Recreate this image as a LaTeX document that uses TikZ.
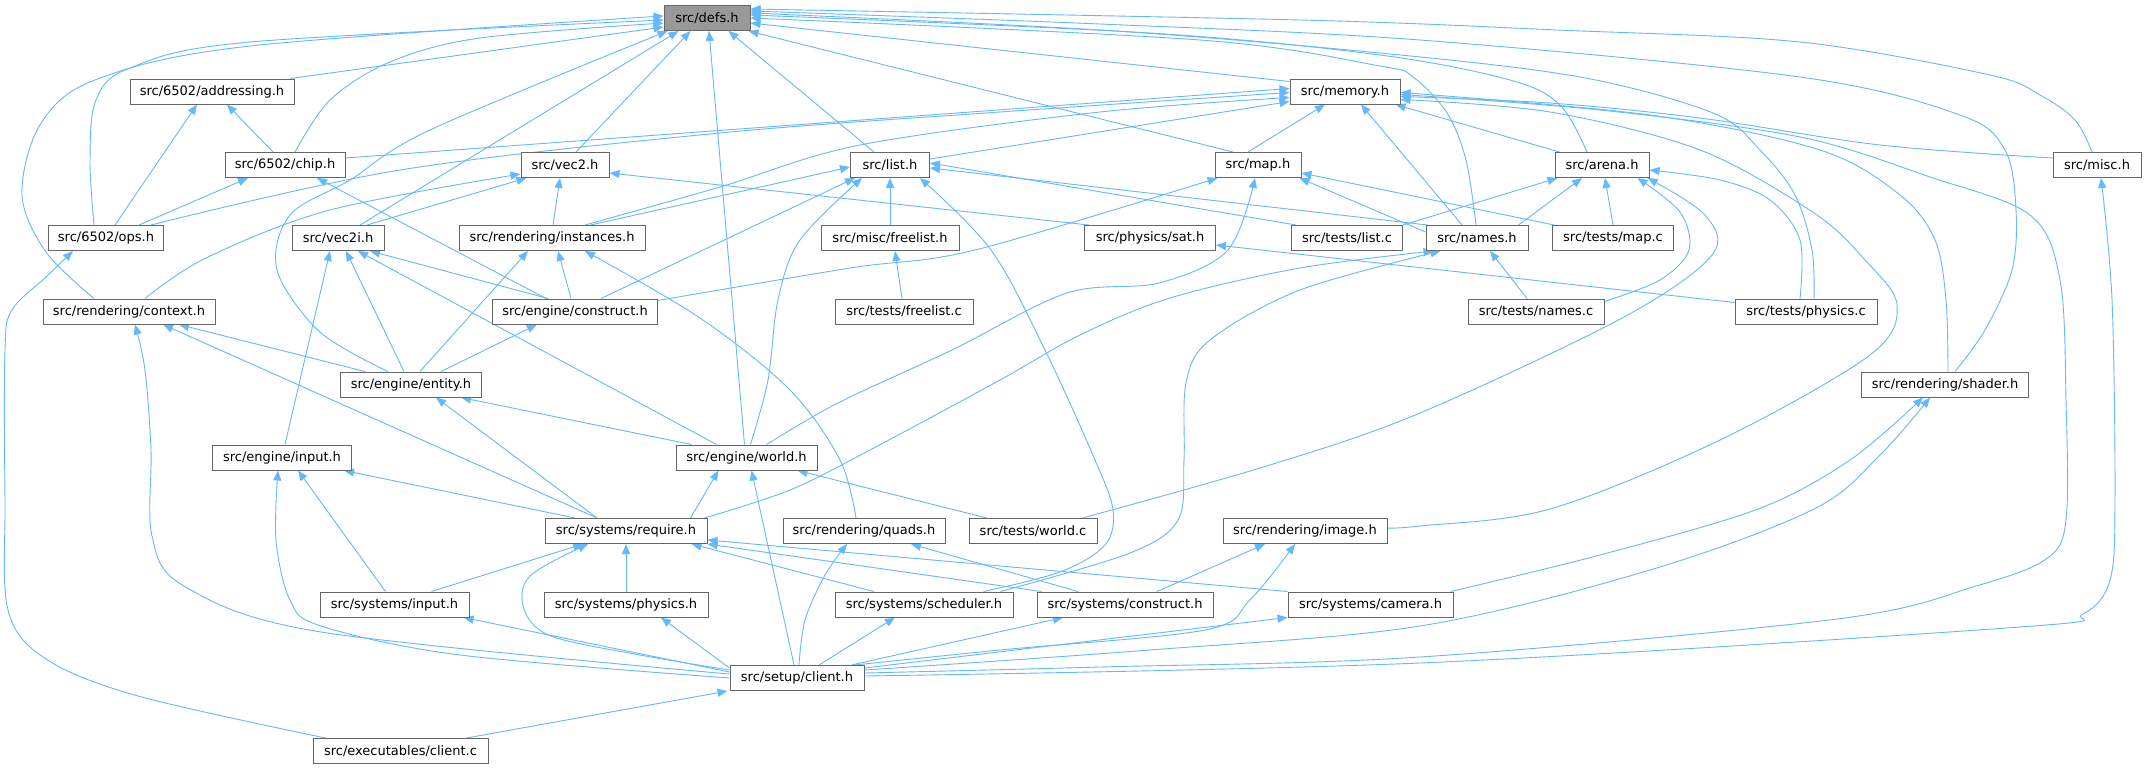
\documentclass[tikz,border=0pt]{standalone}
\usepackage{fontspec}
\setmainfont{DejaVu Sans}
\usetikzlibrary{arrows.meta,calc}
\definecolor{edgec}{HTML}{63B8FF}
\definecolor{bord}{HTML}{666666}
\definecolor{deffill}{HTML}{999999}
\pgfdeclarelayer{bg}
\pgfsetlayers{bg,main}
\tikzset{
 box/.style={draw=bord, line width=1pt, fill=white, minimum height=25pt, inner sep=0pt, text=black, font=\fontsize{13}{15}\selectfont},
 edge/.style={draw=edgec, line width=0.9pt, -{Triangle[length=10pt,width=8pt]}},
 sm/.style={smooth, tension=0.55}
}
\begin{document}
\begin{tikzpicture}[x=1pt,y=-1pt]
\useasboundingbox (0,0) rectangle (2147,769);
% nodes
\node[box, fill=deffill, minimum width=86pt] (defs) at (707,18) {src/defs.h};
\node[box, minimum width=164pt] (addressing) at (212,91.5) {src/6502/addressing.h};
\node[box, minimum width=110pt] (memory) at (1345,91.5) {src/memory.h};
\node[box, minimum width=120pt] (chip) at (285,165) {src/6502/chip.h};
\node[box, minimum width=88pt] (vec2) at (565,165) {src/vec2.h};
\node[box, minimum width=79pt] (list) at (890,165) {src/list.h};
\node[box, minimum width=86pt] (map) at (1258,165) {src/map.h};
\node[box, minimum width=94pt] (arena) at (1602,165) {src/arena.h};
\node[box, minimum width=88pt] (misc) at (2097,165) {src/misc.h};
\node[box, minimum width=115pt] (ops) at (106,238) {src/6502/ops.h};
\node[box, minimum width=92pt] (vec2i) at (338,238) {src/vec2i.h};
\node[box, minimum width=186pt] (instances) at (552,238) {src/rendering/instances.h};
\node[box, minimum width=138pt] (freelist) at (890,238) {src/misc/freelist.h};
\node[box, minimum width=131pt] (sat) at (1150,238) {src/physics/sat.h};
\node[box, minimum width=111pt] (testlist) at (1347,238) {src/tests/list.c};
\node[box, minimum width=102pt] (names) at (1477,238) {src/names.h};
\node[box, minimum width=121pt] (testmap) at (1613,238) {src/tests/map.c};
\node[box, minimum width=172pt] (context) at (129,311.5) {src/rendering/context.h};
\node[box, minimum width=165pt] (construct) at (575,311.5) {src/engine/construct.h};
\node[box, minimum width=138pt] (freelistc) at (904,311.5) {src/tests/freelist.c};
\node[box, minimum width=136pt] (testnames) at (1536,311.5) {src/tests/names.c};
\node[box, minimum width=142pt] (testphysics) at (1806,311.5) {src/tests/physics.c};
\node[box, minimum width=141pt] (entity) at (411,384.5) {src/engine/entity.h};
\node[box, minimum width=167pt] (shader) at (1945,384.5) {src/rendering/shader.h};
\node[box, minimum width=139pt] (einput) at (282,457.5) {src/engine/input.h};
\node[box, minimum width=141pt] (world) at (746.5,457.5) {src/engine/world.h};
\node[box, minimum width=162pt] (require) at (626,531) {src/systems/require.h};
\node[box, minimum width=162pt] (quads) at (864,531) {src/rendering/quads.h};
\node[box, minimum width=128pt] (testworld) at (1033,531) {src/tests/world.c};
\node[box, minimum width=164pt] (image) at (1305,531) {src/rendering/image.h};
\node[box, minimum width=149pt] (sinput) at (394.5,604.5) {src/systems/input.h};
\node[box, minimum width=164pt] (sphysics) at (626,604.5) {src/systems/physics.h};
\node[box, minimum width=178pt] (scheduler) at (924,604.5) {src/systems/scheduler.h};
\node[box, minimum width=176pt] (sconstruct) at (1125,604.5) {src/systems/construct.h};
\node[box, minimum width=165pt] (camera) at (1370.5,604.5) {src/systems/camera.h};
\node[box, minimum width=134pt] (client) at (797,678) {src/setup/client.h};
\node[box, minimum width=175pt] (clientc) at (400.5,751) {src/executables/client.c};

\begin{pgfonlayer}{bg}
\fill[white] (0,0) rectangle (2147,769);
% ---- into defs
\draw[edge] ([xshift=-4pt]addressing.north east) -- ([yshift=-9pt]defs.west);
\draw[edge] plot[sm] coordinates {([xshift=10pt]chip.north) (330,100) (390,62) (480,38) ([yshift=-5pt]defs.west)};
\draw[edge] plot[sm] coordinates {([xshift=-12pt]ops.north) (90,160) (96,100) (130,68) (250,42) ([yshift=-2pt]defs.west)};
\draw[edge] plot[sm] coordinates {([xshift=-35pt]context.north) (46,252) (22,195) (40,125) (95,80) (250,46) ([yshift=2pt]defs.west)};
\draw[edge] ([xshift=11pt]vec2.north) -- ([xshift=27pt]defs.south west);
\draw[edge] ([xshift=22pt]vec2i.north) -- ([xshift=15pt]defs.south west);
\draw[edge] plot[sm] coordinates {([xshift=-23pt]entity.north) (320,332) (277,270) (290,215) (350,180) (430,130) ([xshift=4pt]defs.south west)};
\draw[edge] ([xshift=-2pt]world.north) -- ([xshift=2pt]defs.south);
\draw[edge] ([xshift=-16pt]list.north) -- ([xshift=-22pt]defs.south east);
\draw[edge] ([xshift=-25pt]map.north) -- ([xshift=-2pt]defs.south east);
\draw[edge] ([yshift=-3pt]memory.north west) -- ([yshift=-5pt]defs.east);
\draw[edge] plot[sm] coordinates {([xshift=-1pt]names.north) (1466,160) (1447,113) (1413,77) (1380,66) (1200,40) (defs.east)};
\draw[edge] plot[sm] coordinates {([xshift=-15pt]arena.north) (1560,105) (1510,80) (1380,55) (1150,33) ([yshift=3pt]defs.east)};
\draw[edge] plot[sm] coordinates {([xshift=8pt]testphysics.north) (1812,250) (1795,195) (1760,150) (1713,113) (1580,77) (1380,53) (1100,30) ([yshift=5pt]defs.east)};
\draw[edge] plot[sm] coordinates {([xshift=10pt]shader.north) (1985,330) (2012,270) (2016,210) (2005,150) (1960,115) (1800,77) (1420,40) (1100,24) ([yshift=7pt]defs.east)};
\draw[edge] plot[sm] coordinates {([xshift=-5pt]misc.north) (2075,120) (2040,95) (1990,75) (1800,42) (1557,30) (1300,20) ([yshift=9pt]defs.east)};
% ---- into memory
\draw[edge] ([yshift=7pt]chip.east) -- ([yshift=3pt]memory.west);
\draw[edge] plot[sm] coordinates {([xshift=-13pt]ops.north east) (400,170) (720,133) (1000,112) ([yshift=-1pt]memory.west)};
\draw[edge] plot[sm] coordinates {([xshift=33pt]instances.north) (720,187) (860,145) (1100,112) ([yshift=-6pt]memory.west)};
\draw[edge] ([yshift=6pt]list.east) -- ([yshift=3pt]memory.south west);
\draw[edge] ([xshift=-10pt]map.north) -- ([xshift=-20pt]memory.south);
\draw[edge] ([xshift=-15pt]names.north) -- ([xshift=16pt]memory.south);
\draw[edge] ([xshift=5pt]arena.north west) -- ([xshift=-5pt]memory.south east);
\draw[edge] plot[sm] coordinates {([yshift=7pt]misc.west) (1880,145) (1700,118) (1550,103) ([yshift=-5pt]memory.east)};
\draw[edge] plot[sm] coordinates {([yshift=5pt]client.east) (1100,667) (1420,657) (1837,619) (1976,586) (2046,559) (2066,520) (2066,400) (2060,280) (2030,215) (1930,177) (1800,137) (1600,110) ([yshift=-3pt]memory.east)};
\draw[edge] plot[sm] coordinates {([yshift=3pt]image.east) (1420,526) (1550,509) (1720,440) (1870,355) (1897,305) (1865,260) (1814,213) (1700,150) (1550,112) ([yshift=-8pt]memory.east)};
\draw[edge] plot[sm] coordinates {([xshift=3pt]shader.north) (1946,300) (1935,240) (1900,195) (1820,150) (1650,115) ([yshift=-1pt]memory.east)};
% ---- into misc
\draw[edge] plot[sm] coordinates {([yshift=2pt]client.east) (1420,663) (2020,627) (2083,614) (2110,580) (2115,500) (2112,300) ([xshift=4pt]misc.south)};
% ---- into addressing, chip
\draw[edge] ([xshift=9pt]ops.north) -- ([xshift=-15pt]addressing.south);
\draw[edge] ([xshift=-12pt]chip.north) -- ([xshift=15pt]addressing.south);
\draw[edge] ([xshift=-25pt]ops.north east) -- ([xshift=-37pt]chip.south);
\draw[edge] ([xshift=-29pt]construct.north) -- ([xshift=32pt]chip.south);
% ---- into vec2
\draw[edge] ([xshift=29pt]vec2i.north) -- ([xshift=6pt]vec2.south west);
\draw[edge] plot[sm] coordinates {([xshift=16pt]context.north) (206,258) (330,210) ([yshift=4pt]vec2.south west)};
\draw[edge] ([xshift=1pt]instances.north) -- ([xshift=-5pt]vec2.south);
\draw[edge] ([xshift=5pt]sat.north west) -- ([yshift=-8pt]vec2.east);
% ---- into list
\draw[edge] ([xshift=-55pt]instances.north east) -- ([yshift=-2pt]list.west);
\draw[edge] ([xshift=26pt]construct.north) -- ([xshift=5pt]list.south west);
\draw[edge] plot[sm] coordinates {([xshift=4pt]world.north) (768,380) (778,300) (800,240) ([xshift=12pt]list.south west)};
\draw[edge] (freelist.north) -- (list.south);
\draw[edge] plot[sm] coordinates {([xshift=-30pt]scheduler.north east) (1060,572) (1105,545) (1113,510) (1095,460) (1045,350) (991,250) ([xshift=-10pt]list.south east)};
\draw[edge] ([xshift=5pt]testlist.north west) -- ([yshift=2pt]list.east);
\draw[edge] ([xshift=2pt]names.north west) -- ([yshift=-3pt]list.east);
% ---- into map
\draw[edge] plot[sm] coordinates {([yshift=11pt]construct.east) (850,268) (975,250) ([xshift=3pt]map.south west)};
\draw[edge] plot[sm] coordinates {([xshift=20pt]world.north) (838,403) (952,350) (1067,293) (1159,283) (1228,250) ([xshift=-3pt]map.south)};
\draw[edge] ([yshift=6pt]names.west) -- ([xshift=-2pt]map.south east);
\draw[edge] ([xshift=2pt]testmap.north west) -- ([yshift=-8pt]map.east);
% ---- into arena
\draw[edge] (testlist.north east) -- ([xshift=3pt]arena.south west);
\draw[edge] ([xshift=-10pt]names.north east) -- ([xshift=-20pt]arena.south);
\draw[edge] (testmap.north) -- ([xshift=3pt]arena.south);
\draw[edge] plot[sm] coordinates {([yshift=10pt]testnames.east) (1660,280) (1689,250) (1680,212) ([xshift=-12pt]arena.south east)};
\draw[edge] plot[sm] coordinates {([xshift=-15pt]testworld.north east) (1270,465) (1420,413) (1624,317) (1712,255) (1705,215) ([xshift=-2pt]arena.south east)};
\draw[edge] plot[sm] coordinates {([xshift=-6pt]testphysics.north) (1800,240) (1770,200) (1720,180) ([yshift=-5pt]arena.east)};
% ---- into ops
\draw[edge] plot[sm] coordinates {([xshift=13pt]clientc.north west) (138,696) (46,659) (8,610) (5,500) (5,350) (12,310) (46,277) ([xshift=-33pt]ops.south)};
% ---- into vec2i
\draw[edge] ([xshift=3pt]einput.north) -- ([xshift=-8pt]vec2i.south);
\draw[edge] ([xshift=-7pt]entity.north) -- ([xshift=8pt]vec2i.south);
\draw[edge] ([xshift=-30pt]world.north) -- ([xshift=20pt]vec2i.south);
\draw[edge] ([xshift=-27pt]construct.north) -- ([xshift=32pt]vec2i.south);
% ---- into instances
\draw[edge] ([xshift=9pt]entity.north) -- ([xshift=-24pt]instances.south);
\draw[edge] ([xshift=-4pt]construct.north) -- ([xshift=6pt]instances.south);
\draw[edge] plot[sm] coordinates {([xshift=-8pt]quads.north) (840,460) (790,390) (700,318) ([xshift=33pt]instances.south)};
% ---- into context
\draw[edge] ([xshift=-46pt]entity.north) -- ([xshift=50pt]context.south);
\draw[edge] ([xshift=-29pt]require.north) -- ([xshift=34pt]context.south);
\draw[edge] plot[sm] coordinates {([yshift=4pt]client.west) (321,632) (184,586) (152,536) (151,450) (145,370) ([xshift=6pt]context.south)};
% ---- into construct, freelist, sat
\draw[edge] ([xshift=30pt]entity.north) -- ([xshift=-38pt]construct.south);
\draw[edge] ([xshift=-2pt]freelistc.north) -- ([xshift=5pt]freelist.south);
\draw[edge] ([yshift=9pt]testphysics.west) -- ([yshift=-7pt]sat.east);
% ---- into names
\draw[edge] ([xshift=-9pt]testnames.north) -- ([xshift=13pt]names.south);
\draw[edge] plot[sm] coordinates {([xshift=-3pt]require.north east) (790,490) (870,450) (1000,380) (1080,335) (1170,298) (1300,268) ([xshift=8pt]names.south west)};
\draw[edge] plot[sm] coordinates {([xshift=-13pt]scheduler.north east) (1130,553) (1178,520) (1184,460) (1186,383) (1210,340) (1300,290) ([xshift=15pt]names.south west)};
% ---- into entity, einput
\draw[edge] ([xshift=-55pt]world.north) -- ([xshift=50pt]entity.south);
\draw[edge] ([xshift=-29pt]require.north) -- ([xshift=25pt]entity.south);
\draw[edge] ([xshift=-51pt]require.north) -- ([xshift=62pt]einput.south);
\draw[edge] ([xshift=-9pt]sinput.north) -- ([xshift=16pt]einput.south);
\draw[edge] plot[sm] coordinates {(client.west) (460,655) (321,626) (290,600) (276,540) ([xshift=-4pt]einput.south)};
% ---- into world
\draw[edge] ([xshift=-17pt]require.north east) -- ([xshift=-28pt]world.south);
\draw[edge] ([xshift=-3pt]client.north) -- ([xshift=5pt]world.south);
\draw[edge] ([xshift=-46pt]testworld.north) -- ([xshift=-20pt]world.south east);
% ---- into require
\draw[edge] ([xshift=37pt]sinput.north) -- ([xshift=-43pt]require.south);
\draw[edge] (sphysics.north) -- (require.south);
\draw[edge] ([xshift=-50pt]scheduler.north) -- ([xshift=-16pt]require.south east);
\draw[edge] ([xshift=5pt]sconstruct.north west) -- (require.south east);
\draw[edge] (camera.north west) -- ([yshift=-9pt]require.east);
\draw[edge] plot[sm] coordinates {([yshift=8pt]client.west) (640,655) (551,636) (524,609) (530,576) ([xshift=-38pt]require.south)};
% ---- into quads, image
\draw[edge] ([xshift=-47pt]sconstruct.north) -- ([xshift=47pt]quads.south);
\draw[edge] plot[sm] coordinates {([xshift=2pt]client.north) (805,620) (825,575) ([xshift=-17pt]quads.south)};
\draw[edge] ([xshift=32pt]sconstruct.north) -- ([xshift=-40pt]image.south);
\draw[edge] plot[sm] coordinates {([xshift=-10pt]client.north east) (1000,650) (1205,630) (1250,600) ([xshift=-10pt]image.south)};
% ---- systems from client
\draw[edge] ([xshift=22pt]client.north) -- ([xshift=-29pt]scheduler.south);
\draw[edge] ([xshift=-13pt]client.north east) -- ([xshift=-62pt]sconstruct.south);
\draw[edge] ([yshift=10pt]client.east) -- (camera.south west);
\draw[edge] ([yshift=10pt]client.west) -- ([xshift=35pt]sphysics.south);
\draw[edge] ([yshift=6pt]client.west) -- ([xshift=-6pt]sinput.south east);
% ---- into shader
\draw[edge] plot[sm] coordinates {([xshift=-3pt]camera.north east) (1600,555) (1758,509) (1850,460) ([xshift=-22pt]shader.south)};
\draw[edge] plot[sm] coordinates {([yshift=8pt]client.east) (1150,650) (1420,626) (1650,570) (1814,509) (1880,455) ([xshift=-15pt]shader.south)};
% ---- into client
\draw[edge] ([xshift=-22pt]clientc.north east) -- ([xshift=-2pt]client.south west);
\end{pgfonlayer}
\end{tikzpicture}
\end{document}
